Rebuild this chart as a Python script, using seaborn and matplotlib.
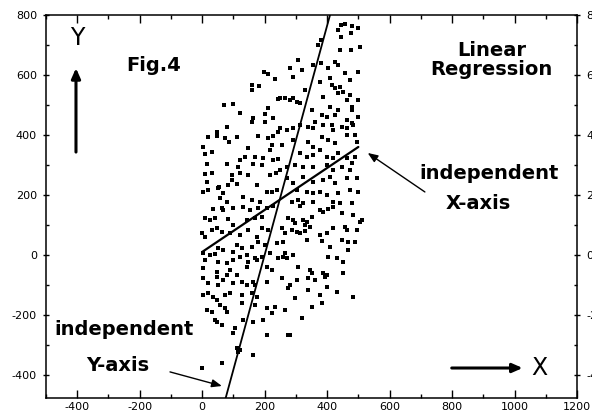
import matplotlib
matplotlib.use("Agg")
import matplotlib.pyplot as plt
import seaborn as sns
import pandas as pd
import numpy as np
from matplotlib.ticker import MultipleLocator

# ---- data ----
dots_xy = [
    (197,611),(210,603),(233,587),(158,567),(181,563),(158,550),(242,520),(69,500),(98,503),(210,490),
    (121,473),(162,457),(201,470),(226,457),(159,443),(201,443),(79,427),(47,410),(18,393),(47,397),
    (73,390),(85,377),(111,393),(178,397),(210,390),(242,410),(226,397),(2,360),(31,343),(9,337),
    (146,357),(223,367),(217,350),(121,317),(137,327),(169,327),(194,323),(226,317),(242,320),(15,303),
    (79,303),(114,293),(162,303),(191,300),(217,267),(236,273),(9,270),(31,273),(95,267),(121,273),
    (146,267),(15,243),(95,250),(111,237),(82,233),(53,227),(175,233),(207,210),(223,210),(239,217),
    (2,210),(18,217),(50,223),(66,207),(130,193),(159,183),(185,177),(57,190),(79,177),
    (446,767),(457,770),(481,763),(498,757),(434,750),(446,727),(478,740),(505,693),(476,683),(441,683),
    (382,717),(371,700),(382,640),(354,633),(306,650),(281,623),(290,593),(319,617),(402,623),(425,643),
    (434,633),(457,607),(498,610),(473,583),(409,590),(249,523),(265,523),(281,517),(290,523),(303,510),
    (313,507),(329,550),(377,577),(386,527),(415,567),(425,557),(441,560),(434,540),(450,543),(473,533),
    (463,517),(479,493),(498,517),(351,483),(409,493),(434,483),(479,483),(383,467),(361,443),(399,460),
    (425,467),(463,450),(498,460),(482,433),(249,423),(271,417),(290,423),(313,433),(338,427),(354,423),
    (386,433),(415,433),(418,417),(447,427),(463,423),(479,440),(383,393),(402,383),(425,373),(463,400),
    (489,400),(495,377),(255,367),(290,383),(338,377),(354,360),(335,327),(313,340),(354,333),(377,350),
    (399,327),(418,323),(434,340),(463,323),(489,327),(479,307),(249,283),(271,293),(297,300),(322,293),
    (354,293),(399,300),(418,283),(447,293),(473,283),(271,257),(290,240),(322,260),(354,243),(386,250),
    (409,260),(425,240),(463,257),(495,257),(303,217),(335,210),(354,207),(377,210),(399,200),(434,207),
    (473,217),(498,210),(287,177),(306,183),(322,173),(354,177),(418,177),(441,173),(479,173),
    (34,153),(63,157),(66,150),(98,157),(130,160),(153,150),(178,157),(207,157),(226,163),(9,123),
    (25,117),(41,123),(82,120),(98,100),(143,117),(169,123),(191,127),(-1,73),(9,60),(31,83),
    (47,90),(63,77),(89,73),(121,67),(146,83),(175,60),(191,90),(210,83),(111,33),(127,23),
    (159,27),(178,43),(201,33),(239,40),(2,7),(25,0),(41,3),(50,23),(66,17),(98,10),
    (121,-7),(143,0),(169,-10),(191,-7),(217,7),(9,-17),(50,-23),(79,-27),(98,-17),(146,-23),
    (175,-17),(2,-43),(47,-57),(89,-50),(143,-40),(207,-40),(223,-50),(242,-10),(47,-73),(79,-67),
    (111,-67),(162,-90),(207,-90),(2,-77),(18,-93),(50,-100),(66,-83),(98,-93),(127,-90),(143,-100),
    (169,-100),(2,-133),(18,-127),(34,-140),(47,-150),(73,-133),(89,-127),(127,-133),(159,-127),(175,-140),
    (15,-183),(31,-190),(57,-167),(73,-177),(79,-190),(127,-160),(169,-167),(207,-177),(223,-193),(233,-173),
    (41,-217),(47,-223),(63,-233),(130,-217),(162,-223),(194,-217),(105,-243),(98,-260),(207,-267),(111,-310),
    (114,-323),(162,-333),(63,-360),(-1,-377),(121,-317),(274,-267),
    (313,163),(377,150),(386,143),(402,153),(418,160),(447,140),(482,133),(511,117),(505,110),(274,123),
    (290,117),(297,107),(322,117),(335,110),(351,127),(329,100),(345,93),(255,90),(265,73),(287,83),
    (303,77),(313,73),(329,80),(377,67),(399,73),(418,90),(457,93),(463,83),(495,83),(447,50),
    (466,43),(489,43),(258,43),(335,50),(383,47),(409,27),(466,17),(265,7),(258,-7),(271,-10),
    (290,0),(402,-7),(431,-10),(450,-23),(306,-40),(345,-50),(351,-60),(386,-60),(399,-67),(393,-73),
    (450,-60),(255,-77),(281,-100),(274,-110),(303,-83),(338,-77),(361,-83),(399,-107),(338,-117),(377,-133),
    (431,-123),(482,-140),(297,-143),(383,-160),(351,-173),(265,-183),(319,-210),(281,-267),
]

# regression of Y on X (independent X-axis): y = a + b*x, drawn over the X range of the data
yx_intercept = 10
yx_slope = 0.70
yx_x_range = [0, 500]

# regression of X on Y (independent Y-axis): x = c + d*y
xy_intercept = 200
xy_slope = 0.2616
xy_y_range = [-480, 800]

x_ticks = [-400, -200, 0, 200, 400, 600, 800, 1000, 1200]
y_ticks = [-400, -200, 0, 200, 400, 600, 800]

# ---- figure ----
sns.set_theme(style="ticks")
plt.rcParams["font.family"] = ["DejaVu Sans"]
plt.rcParams["text.color"] = "black"
plt.rcParams["xtick.color"] = "black"
plt.rcParams["ytick.color"] = "black"
plt.rcParams["axes.edgecolor"] = "black"

fig = plt.figure(figsize=(5.92, 4.16), dpi=100)
ax = fig.add_axes([46/592, 18/416, 531/592, 383/416])

df = pd.DataFrame(dots_xy, columns=["x", "y"])
sns.scatterplot(data=df, x="x", y="y", ax=ax, marker="s", s=5.5,
                color="black", linewidth=0, legend=False)

lx = np.array(yx_x_range, dtype=float)
sns.lineplot(x=lx, y=yx_intercept + yx_slope*lx, ax=ax, color="black",
             lw=1.6, sort=False)
ly = np.array(xy_y_range, dtype=float)
sns.lineplot(x=xy_intercept + xy_slope*ly, y=ly, ax=ax, color="black",
             lw=1.3, sort=False)

ax.set_xlim(-500, 1200)
ax.set_ylim(-477, 800)
ax.set_xticks(x_ticks)
ax.set_xticklabels([str(t) for t in x_ticks])
ax.set_yticks(y_ticks)
ax.set_yticklabels([str(t) for t in y_ticks])
ax.xaxis.set_minor_locator(MultipleLocator(100))
ax.yaxis.set_minor_locator(MultipleLocator(100))
ax.set_xlabel("")
ax.set_ylabel("")

for s in ax.spines.values():
    s.set_visible(True)
    s.set_linewidth(1.1)
    s.set_color("black")

ax.tick_params(axis="x", which="major", direction="in", length=6, width=1,
               top=True, bottom=True, labelsize=8, pad=3, colors="black")
ax.tick_params(axis="x", which="minor", direction="in", length=3, width=1,
               top=True, bottom=True, colors="black")
ax.tick_params(axis="y", which="major", direction="inout", length=5, width=1,
               left=True, right=True, labelleft=True, labelright=True,
               labelsize=8, pad=4, colors="black")
ax.tick_params(axis="y", which="minor", direction="in", length=2.5, width=1,
               left=True, right=True, colors="black")

# ---- annotations ----
ax.text(-401, 723, "Y", fontsize=17, ha="center", va="center", color="black")
ax.annotate("", xy=(-404, 623), xytext=(-404, 343),
            arrowprops=dict(arrowstyle="-|>,head_length=0.5,head_width=0.22",
                            lw=2.2, color="black", shrinkA=0, shrinkB=0),
            annotation_clip=False)
ax.text(-155, 630, "Fig.4", fontsize=14, fontweight="bold", ha="center",
        va="center", color="black")
ax.text(927, 650, "Linear\nRegression", fontsize=14, fontweight="bold",
        ha="center", va="center", linespacing=1.05, color="black")

ax.text(917, 270, "independent", fontsize=14, fontweight="bold", ha="center",
        va="center", color="black")
ax.text(885, 170, "X-axis", fontsize=14, fontweight="bold", ha="center",
        va="center", color="black")
ax.annotate("", xy=(530, 340), xytext=(713, 210),
            arrowprops=dict(arrowstyle="-|>,head_length=0.5,head_width=0.2",
                            lw=1.0, color="black", shrinkA=0, shrinkB=0))

ax.text(-251, -250, "independent", fontsize=14, fontweight="bold", ha="center",
        va="center", color="black")
ax.text(-270, -367, "Y-axis", fontsize=14, fontweight="bold", ha="center",
        va="center", color="black")
ax.annotate("", xy=(63, -437), xytext=(-103, -390),
            arrowprops=dict(arrowstyle="-|>,head_length=0.5,head_width=0.2",
                            lw=1.0, color="black", shrinkA=0, shrinkB=0))

ax.annotate("", xy=(1026, -377), xytext=(799, -377),
            arrowprops=dict(arrowstyle="-|>,head_length=0.5,head_width=0.22",
                            lw=2.2, color="black", shrinkA=0, shrinkB=0))
ax.text(1081, -377, "X", fontsize=17, ha="center", va="center", color="black")

fig.savefig("out.png", dpi=100)
